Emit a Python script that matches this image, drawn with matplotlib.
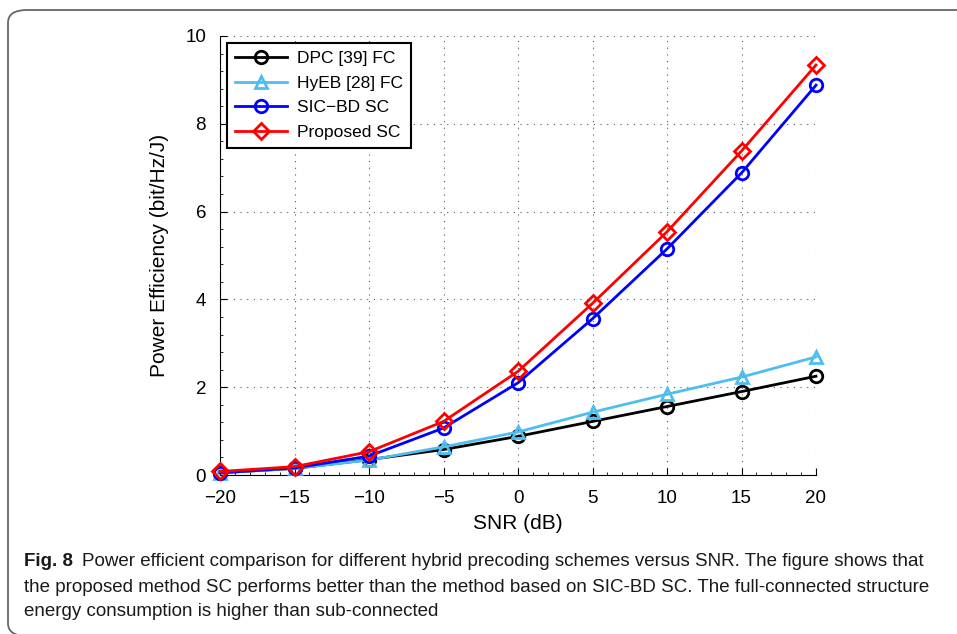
import numpy as np
import matplotlib.pyplot as plt
from matplotlib.patches import FancyBboxPatch
from matplotlib.ticker import MultipleLocator

# ======================================================
# Data: power efficiency (bit/Hz/J) versus SNR (dB)
# ======================================================

snr = [-20, -15, -10, -5, 0, 5, 10, 15, 20]

dpc_fc = [0.05, 0.15, 0.35, 0.58, 0.88, 1.22, 1.56, 1.90, 2.25]
hyeb_fc = [0.05, 0.15, 0.34, 0.64, 0.98, 1.43, 1.84, 2.23, 2.69]
sicbd_sc = [0.05, 0.16, 0.43, 1.07, 2.10, 3.56, 5.15, 6.88, 8.88]
proposed_sc = [0.08, 0.19, 0.53, 1.22, 2.36, 3.91, 5.54, 7.38, 9.34]

labels = ["DPC [39] FC", "HyEB [28] FC", "SIC\u2212BD SC", "Proposed SC"]
caption_lines = [
    "Power efficient comparison for different hybrid precoding schemes versus SNR. The figure shows that",
    "the proposed method SC performs better than the method based on SIC-BD SC. The full-connected structure",
    "energy consumption is higher than sub-connected",
]

# ======================================================
# Figure
# ======================================================

plt.rcParams['font.family'] = ['Liberation Sans', 'DejaVu Sans']

fig = plt.figure(figsize=(9.57, 6.34), dpi=100)

# rounded frame around chart and caption (right and bottom run off the page)
W, H = 957.0, 634.0
frame = FancyBboxPatch((8 / W, 1 - 636 / H), 1.2, (636 - 10) / H,
                       boxstyle="round,pad=0,rounding_size=0.02",
                       transform=fig.transFigure, fill=False,
                       edgecolor="#666666", linewidth=1.3, clip_on=False)
fig.patches.append(frame)

ax = fig.add_axes([220 / W, 1 - 475 / H, (816 - 220) / W, (475 - 36) / H])

style = dict(lw=2, mfc="none", mew=2, clip_on=False, zorder=3)
ax.plot(snr, dpc_fc, color="black", marker="o", ms=9, label=labels[0], **style)
ax.plot(snr, hyeb_fc, color="#4DBEEE", marker="^", ms=9, label=labels[1], **style)
ax.plot(snr, sicbd_sc, color="#0000FF", marker="o", ms=9, label=labels[2], **style)
ax.plot(snr, proposed_sc, color="#FF0000", marker="D", ms=8, label=labels[3], **style)

ax.set_xlim(-20, 20)
ax.set_ylim(0, 10)
ax.xaxis.set_major_locator(MultipleLocator(5))
ax.xaxis.set_minor_locator(MultipleLocator(1))
ax.yaxis.set_major_locator(MultipleLocator(2))
ax.yaxis.set_minor_locator(MultipleLocator(0.4))
ax.xaxis.set_major_formatter(plt.FuncFormatter(lambda v, p: f"{int(v)}".replace("-", "\u2212")))

ax.tick_params(which="both", direction="in", labelsize=13.5, top=False, right=False)
ax.tick_params(which="major", length=5)
ax.tick_params(axis="x", which="major", pad=11)
ax.tick_params(axis="y", which="major", pad=10)
ax.tick_params(which="minor", length=2.5)

for side in ["top", "right"]:
    ax.spines[side].set_visible(False)

ax.grid(True, which="major", linestyle=(0, (1, 5)), color="#555555", linewidth=0.8)
ax.set_axisbelow(True)

ax.set_xlabel("SNR (dB)", fontsize=15, labelpad=5)
ax.set_ylabel("Power Efficiency (bit/Hz/J)", fontsize=15, labelpad=12)

leg = ax.legend(loc="upper left", fontsize=12.5, frameon=True, fancybox=False,
                edgecolor="black", framealpha=1, borderaxespad=0.4,
                handlelength=3.0, labelspacing=0.55, borderpad=0.45, handletextpad=0.6)
leg.get_frame().set_linewidth(1.5)
leg.set_zorder(5)

# caption
cap_font = ['Liberation Sans Narrow', 'Liberation Sans', 'DejaVu Sans']
fig.text(24 / W, 1 - 562 / H, "Fig. 8", fontsize=13.5, fontweight="bold",
         family=cap_font, va="center", color="#1a1a1a")
fig.text(82 / W, 1 - 562 / H, caption_lines[0], fontsize=13.5,
         family=cap_font, va="center", color="#1a1a1a")
fig.text(24 / W, 1 - 587 / H, caption_lines[1], fontsize=13.5,
         family=cap_font, va="center", color="#1a1a1a")
fig.text(24 / W, 1 - 611 / H, caption_lines[2], fontsize=13.5,
         family=cap_font, va="center", color="#1a1a1a")

fig.savefig("out.png", dpi=100)
